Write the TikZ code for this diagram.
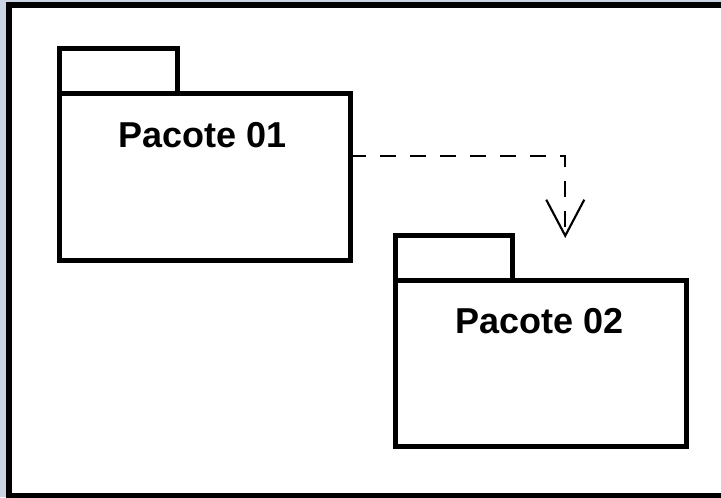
\documentclass[tikz,border=0pt]{standalone}
\usepackage{fontspec}
\setmainfont{Liberation Sans}
\usepackage{xcolor}
\usepackage{tikz}
\usetikzlibrary{arrows.meta,positioning,calc}
\definecolor{edgeblue}{HTML}{C9D3E3}
\definecolor{inkblack}{HTML}{000000}
\tikzset{
  frame/.style={draw=inkblack,fill=white,line width=4.5pt},
  pkgbody/.style={rectangle,draw=inkblack,fill=white,line width=3.75pt,outer sep=0pt,inner sep=0pt},
  pkgtab/.style={rectangle,draw=inkblack,fill=white,line width=3.75pt,outer sep=0pt,inner sep=0pt,minimum height=33.75pt},
  pkgtitle/.style={font=\fontsize{27}{30}\selectfont\bfseries,inner sep=0pt},
  depend/.style={-{Straight Barb[length=27pt,width=28.5pt]},draw=inkblack,line width=1.6pt,dash pattern=on 12pt off 10.5pt}
}
\begin{document}
\begin{tikzpicture}[x=0.75pt,y=-0.75pt]
  \useasboundingbox (0,0) rectangle (721,497);
  \clip (0,0) rectangle (721,497);
  \fill[edgeblue] (0,0) rectangle (721,497);
  \draw[frame] (8.5,5) rectangle (740,496);

  \node[pkgbody,minimum width=218.25pt,minimum height=124.9pt] (pk1body) at (204.5,176.75) {};
  \node[pkgtab,minimum width=88.5pt,above right=0pt and 0pt of pk1body.north west] (pk1tab) {};
  \node[pkgtitle] (pk1title) at (203,135) {Pacote 01};

  \node[pkgbody,minimum width=217.9pt,minimum height=124.5pt] (pk2body) at (541.25,363) {};
  \node[pkgtab,minimum width=87.4pt,above right=0pt and 0pt of pk2body.north west] (pk2tab) {};
  \node[pkgtitle] (pk2title) at (540,321) {Pacote 02};

  \coordinate (dep) at ($(pk2body.north)+(24,-42)$);
  \draw[depend] (pk1body.8.5) -| (dep);
\end{tikzpicture}
\end{document}
